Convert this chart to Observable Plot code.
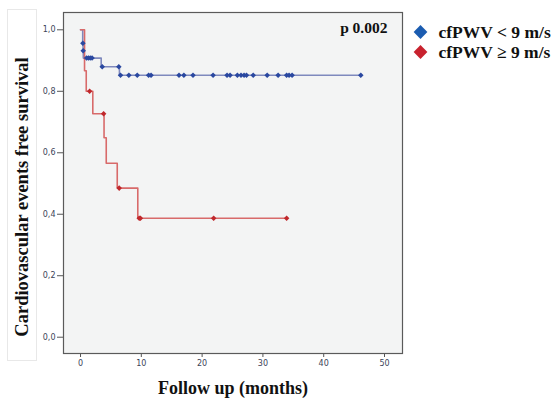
<!DOCTYPE html>
<html><head><meta charset="utf-8">
<script src="https://cdn.jsdelivr.net/npm/d3@7"></script>
<script src="https://cdn.jsdelivr.net/npm/@observablehq/plot@0.6"></script>
<style>body{margin:0;background:#fff}</style>
</head><body><div id="chart"></div>
<script>
// Tick values
const xTicks = [0, 10, 20, 30, 40, 50];
const yTicks = [0, 0.2, 0.4, 0.6, 0.8, 1.0];

// Group labels
const groupLow = "cfPWV < 9 m/s";
const groupHigh = "cfPWV \u2265 9 m/s";
const pLabel = "p 0.002";

// Kaplan–Meier steps, cfPWV < 9 m/s
const lowStepT = [0, 0.36, 0.42, 0.46, 3.4, 6.4, 46.1];
const lowStepS = [1, 0.956, 0.932, 0.908, 0.88, 0.852, 0.852];
// censored, cfPWV < 9 m/s
const lowCensT = [0.39, 0.44, 1.0, 1.3, 1.6, 1.9, 3.57, 6.3, 6.58, 7.95, 9.33, 11.2, 11.6, 16.2, 17.0, 18.5, 21.8, 24.1, 24.6, 25.8, 26.4, 26.9, 27.3, 28.4, 30.7, 32.5, 33.9, 34.3, 34.8, 46.1];
const lowCensS = [0.956, 0.932, 0.908, 0.908, 0.908, 0.908, 0.88, 0.88, 0.852, 0.852, 0.852, 0.852, 0.852, 0.852, 0.852, 0.852, 0.852, 0.852, 0.852, 0.852, 0.852, 0.852, 0.852, 0.852, 0.852, 0.852, 0.852, 0.852, 0.852, 0.852];

// Kaplan–Meier steps, cfPWV >= 9 m/s
const highStepT = [0, 0.66, 0.94, 2.02, 3.87, 4.23, 6.04, 9.42, 33.9];
const highStepS = [1, 0.867, 0.80, 0.727, 0.649, 0.566, 0.485, 0.387, 0.387];
// censored, cfPWV >= 9 m/s
const highCensT = [1.5, 3.8, 6.36, 9.65, 9.85, 21.9, 33.9];
const highCensS = [0.80, 0.727, 0.485, 0.387, 0.387, 0.387, 0.387];

const lowSteps = lowStepT.map((t, i) => ({t, s: lowStepS[i]}));
const highSteps = highStepT.map((t, i) => ({t, s: highStepS[i]}));
const lowCens = lowCensT.map((t, i) => ({t, s: lowCensS[i]}));
const highCens = highCensT.map((t, i) => ({t, s: highCensS[i]}));

const serif = "Liberation Serif, Times New Roman, serif";
const blueLine = "#7f89bd", blueMark = "#2a48a0", blueLegend = "#1b5cb0";
const redLine = "#d86a6a", redMark = "#c0282c", redLegend = "#c8222e";

const chart = Plot.plot({
  width: 555,
  height: 399,
  marginLeft: 63,
  marginRight: 153,
  marginTop: 12,
  marginBottom: 46,
  style: {fontFamily: "DejaVu Sans, sans-serif", fontSize: "8px", color: "#3c4458", background: "#fff", overflow: "visible"},
  x: {domain: [-2.8, 52.96], ticks: xTicks},
  y: {domain: [-0.053, 1.0563], ticks: yTicks},
  marks: [
    Plot.frame({fill: "#f3f4f4", stroke: "none"}),
    Plot.axisX({ticks: xTicks, tickSize: 4, tickPadding: 3, stroke: "#555", label: null, tickFormat: d => String(d)}),
    Plot.axisY({ticks: yTicks, tickSize: 6, tickPadding: 2, stroke: "#555", label: null, tickFormat: d => d.toFixed(1).replace(".", ",")}),
    Plot.line(lowSteps, {x: "t", y: "s", curve: "step-after", stroke: blueLine, strokeWidth: 1.6}),
    Plot.line(highSteps, {x: "t", y: "s", curve: "step-after", stroke: redLine, strokeWidth: 1.6}),
    Plot.dot(lowCens, {x: "t", y: "s", symbol: "diamond2", r: 2.5, fill: blueMark, stroke: "none"}),
    Plot.dot(highCens, {x: "t", y: "s", symbol: "diamond2", r: 2.5, fill: redMark, stroke: "none"}),
    Plot.frame({stroke: "#5a5a5a", strokeWidth: 1.2}),
    Plot.text([pLabel], {frameAnchor: "top-right", dx: -15, dy: 16, textAnchor: "end", lineAnchor: "middle", fontFamily: serif, fontWeight: "bold", fontSize: 15.5, fill: "#111"}),
    Plot.dot([groupLow], {frameAnchor: "top-right", dx: 18, dy: 19.5, symbol: "diamond2", r: 6.2, fill: blueLegend, stroke: "none"}),
    Plot.dot([groupHigh], {frameAnchor: "top-right", dx: 18, dy: 39.5, symbol: "diamond2", r: 6.2, fill: redLegend, stroke: "none"}),
    Plot.text([groupLow], {frameAnchor: "top-right", dx: 36, dy: 19.5, textAnchor: "start", lineAnchor: "middle", fontFamily: serif, fontWeight: "bold", fontSize: 17.5, fill: "#111"}),
    Plot.text([groupHigh], {frameAnchor: "top-right", dx: 36, dy: 39.5, textAnchor: "start", lineAnchor: "middle", fontFamily: serif, fontWeight: "bold", fontSize: 17.5, fill: "#111"}),
    Plot.text(["Follow up (months)"], {frameAnchor: "bottom", dy: 35, textAnchor: "middle", lineAnchor: "middle", fontFamily: serif, fontWeight: "bold", fontSize: 18, fill: "#111"}),
    Plot.text(["Cardiovascular events free survival"], {frameAnchor: "left", dx: -41, dy: 14, rotate: -90, textAnchor: "middle", lineAnchor: "middle", fontFamily: serif, fontWeight: "bold", fontSize: 18.5, fill: "#111"})
  ]
});

// faint panel behind the y-axis title
d3.select(chart).insert("rect", ":first-child")
  .attr("x", 7.5).attr("y", 9.5).attr("width", 29).attr("height", 351)
  .attr("fill", "#fff").attr("stroke", "#e8e8e8");

document.getElementById("chart").appendChild(chart);
</script>
</body></html>
